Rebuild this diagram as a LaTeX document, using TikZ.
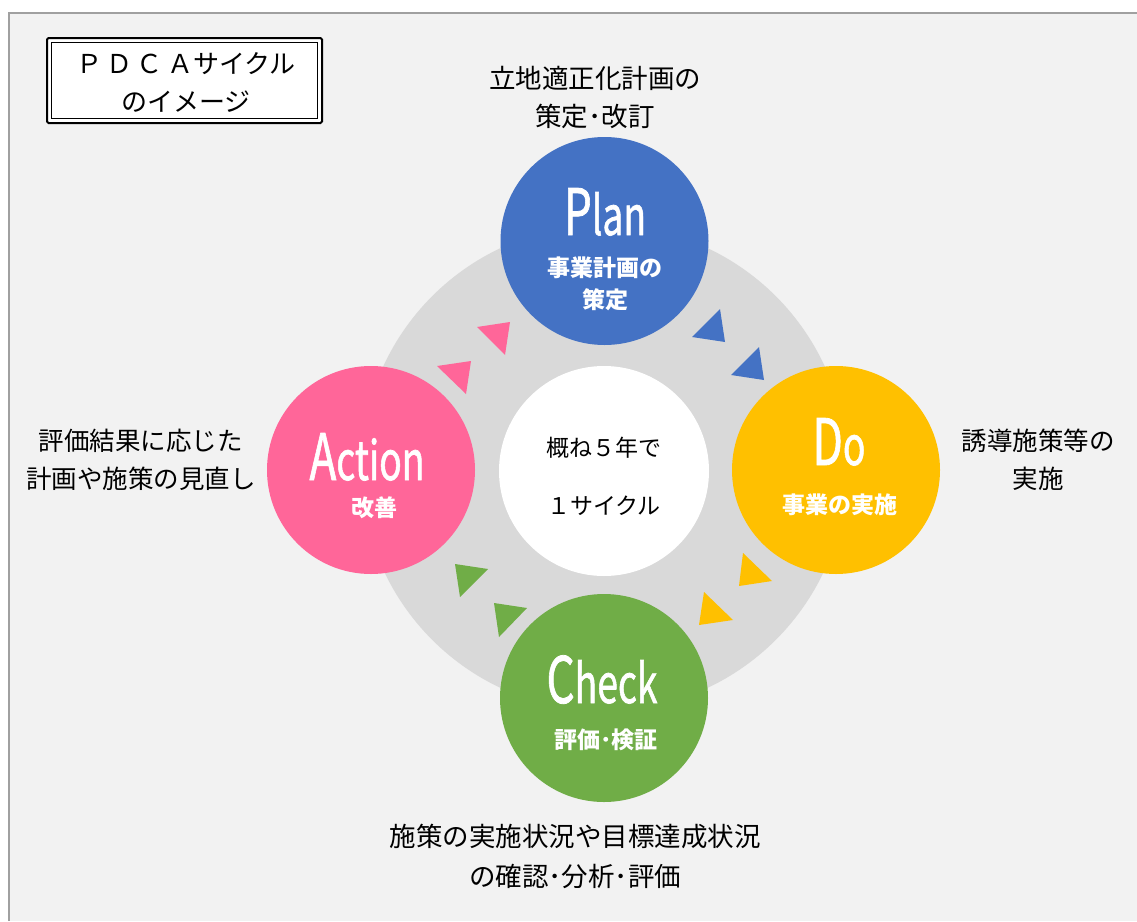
\documentclass[tikz,border=0pt]{standalone}
\usepackage{fontspec}
\setmainfont{Noto Sans CJK JP}
\newfontfamily\bigfont[FakeBold=1.3]{Noto Sans CJK JP}
\definecolor{pblue}{HTML}{4472C4}
\definecolor{pyel}{HTML}{FFC000}
\definecolor{pgreen}{HTML}{70AD47}
\definecolor{ppink}{HTML}{FF6699}
\definecolor{pring}{HTML}{D9D9D9}
\definecolor{pbg}{HTML}{F2F2F2}
\definecolor{pframe}{HTML}{A0A0A0}
\newcommand\biglbl[2]{\scalebox{0.69}[1]{\bigfont\fontsize{64}{64}\selectfont #1\fontsize{54}{54}\selectfont #2}}
\tikzset{
  circ/.style={circle, minimum size=208pt, inner sep=0pt, draw=none},
  bigtxt/.style={anchor=base, text=white, inner sep=0pt},
  subtxt/.style={text=white, font=\bfseries\fontsize{23}{32}\selectfont, align=center, inner sep=0pt},
  lbl/.style={text=black, font=\fontsize{25.5}{38}\selectfont, align=center, inner sep=0pt},
  ctr/.style={text=black, font=\fontsize{23}{58}\selectfont, align=center, inner sep=0pt}
}
\begin{document}
\begin{tikzpicture}[x=1pt,y=-1pt]
\useasboundingbox (0,0) rectangle (1137,921);
\fill[white] (0,0) rectangle (1137,921);
\fill[pbg] (9,13) rectangle (1137,921);
\draw[pframe, line width=1.5pt] (9,921) -- (9,13) -- (1137,13);
% title box
\filldraw[fill=white, draw=black, line width=2pt, rounded corners=1.5pt] (47,38) rectangle (322,123);
\draw[black, line width=1.6pt] (51.5,42.5) rectangle (317.5,118.5);
\node[text=black, font=\fontsize{26}{38}\selectfont, align=center, inner sep=0pt] (title) at (186,82) {Ｐ\,Ｄ\,Ｃ\,Ａサイクル\\のイメージ};
% ring
\fill[pring] (604,468) circle (243);
\node[circ, fill=white, minimum size=210pt] (center) at (604,471) {};
\node[ctr] (centert) at (604,476) {概ね５年で\\１サイクル};
% circles
\node[circ, fill=pblue] (plan) at (604.5,241) {};
\node[circ, fill=pyel] (do) at (836,470) {};
\node[circ, fill=pgreen] (check) at (604,698) {};
\node[circ, fill=ppink] (action) at (371,470) {};
% circle texts
\node[bigtxt] (plant) at (605,235) {\biglbl{P}{lan}};
\node[subtxt] (plans) at (605,284) {事業計画の\\策定};
\node[bigtxt] (dot) at (839,465) {\biglbl{D}{o}};
\node[subtxt] (dos) at (840,505) {事業の実施};
\node[bigtxt] (checkt) at (602,703) {\biglbl{C}{heck}};
\node[subtxt] (checks) at (606,740) {評価･検証};
\node[bigtxt] (actiont) at (367,480) {\biglbl{A}{ction}};
\node[subtxt] (actions) at (374,508) {改善};
% triangles
\fill[pblue] (692,337) -- (720,309) -- (725,342) -- cycle;
\fill[pblue] (731,375) -- (759,347) -- (764,380) -- cycle;
\fill[pyel] (743,553) -- (772,581) -- (739,586) -- cycle;
\fill[pyel] (704,592) -- (733,620) -- (699,625) -- cycle;
\fill[pgreen] (455,564) -- (488,569) -- (460,597) -- cycle;
\fill[pgreen] (494,603) -- (527,608) -- (499,637) -- cycle;
\fill[ppink] (437,366) -- (471,361) -- (466,394) -- cycle;
\fill[ppink] (477,327) -- (510,322) -- (505,355) -- cycle;
% outer labels
\node[lbl, font=\fontsize{26.5}{38}\selectfont] (lplan) at (595,97) {立地適正化計画の\\策定･改訂};
\node[lbl] (ldo) at (1038,460) {誘導施策等の\\実施};
\node[lbl] (laction) at (141,460) {評価結果に応じた\\計画や施策の見直し};
\node[lbl, font=\fontsize{26.5}{40}\selectfont] (lcheck) at (575,856) {施策の実施状況や目標達成状況\\の確認･分析･評価};
\end{tikzpicture}
\end{document}
